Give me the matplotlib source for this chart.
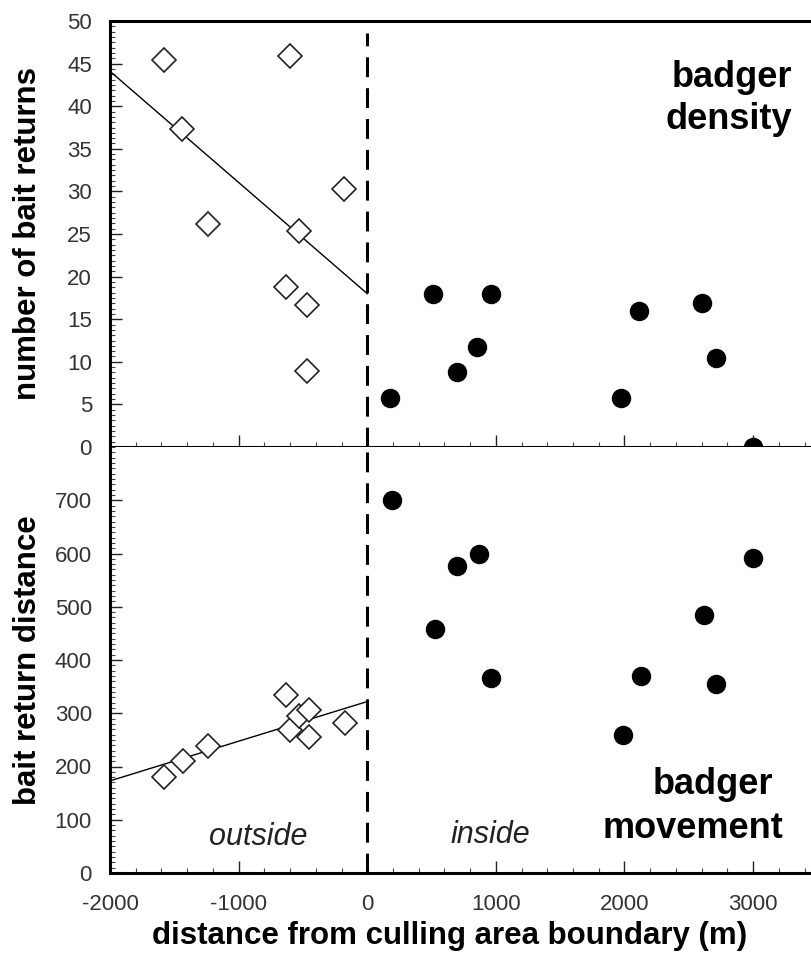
import numpy as np
import matplotlib
matplotlib.use("Agg")
import matplotlib.pyplot as plt
from matplotlib.ticker import MultipleLocator

plt.rcParams["font.family"] = ["Liberation Sans", "DejaVu Sans"]
plt.rcParams["axes.unicode_minus"] = False

# Top panel: number of bait returns (badger density)
out_x_top = [-1580, -600, -1440, -180, -1240, -530, -630, -470, -470]
out_y_top = [45.4, 45.9, 37.3, 30.3, 26.2, 25.3, 18.8, 16.7, 8.9]
in_x_top = [180, 510, 960, 850, 700, 2115, 2600, 2710, 1975, 3000]
in_y_top = [5.8, 17.9, 17.9, 11.7, 8.8, 16.0, 16.9, 10.5, 5.8, 0]
fit_top_x = [-2000, 0]
fit_top_y = [44.1, 18.0]

# Bottom panel: bait return distance (badger movement)
out_x_bot = [-1580, -1435, -1240, -630, -600, -530, -455, -455, -170]
out_y_bot = [181, 211, 238, 334, 268, 294, 306, 256, 282]
in_x_bot = [190, 700, 870, 530, 960, 2125, 2715, 1990, 2620, 3000]
in_y_bot = [700, 577, 599, 459, 366, 370, 354, 259, 485, 592]
fit_bot_x = [-2000, 0]
fit_bot_y = [173, 322]

x_ticks = [-2000, -1000, 0, 1000, 2000, 3000]
top_yticks = np.arange(0, 51, 5)
bot_yticks = np.arange(0, 701, 100)

fig = plt.figure(figsize=(8.11, 9.57), dpi=100)
left = 110 / 811
ax_top = fig.add_axes([left, 1 - 447 / 957, 1 - left, 426 / 957])
ax_bot = fig.add_axes([left, 1 - 873 / 957, 1 - left, 426 / 957])

tick_color = "#333333"
dash = (0, (6.5, 3.6))

for ax in (ax_top, ax_bot):
    ax.set_xlim(-2000, 3450)
    ax.spines["right"].set_visible(False)
    for s in ("left", "top", "bottom"):
        ax.spines[s].set_linewidth(2.2)
    ax.set_xticks(x_ticks)
    ax.xaxis.set_minor_locator(MultipleLocator(200))
    ax.tick_params(which="major", direction="in", length=8.5, width=1.0,
                   labelsize=16, labelcolor=tick_color, color="#222222")
    ax.tick_params(which="minor", direction="in", length=3.8, width=0.8,
                   color="#444444")
    ax.tick_params(axis="y", pad=13)
    ax.tick_params(axis="x", pad=15)
    ax.tick_params(top=False, right=False)

# top panel
ax_top.set_ylim(0, 50)
ax_top.set_yticks(top_yticks)
ax_top.yaxis.set_minor_locator(MultipleLocator(0.625))
ax_top.tick_params(axis="x", labelbottom=False)
ax_top.plot(fit_top_x, fit_top_y, color="black", lw=1.0)
ax_top.plot(out_x_top, out_y_top, "D", ms=12, mfc="white", mec="#222222",
            mew=1.2, ls="none")
ax_top.plot(in_x_top, in_y_top, "o", ms=13, color="black", ls="none",
            clip_on=False, zorder=5)
ax_top.plot([0, 0], [0, 48.6], color="black", lw=2.2, ls=dash)
ax_top.set_ylabel("number of bait returns", fontsize=22.5, fontweight="bold")
ax_top.yaxis.set_label_coords(-0.117, 0.5)
ax_top.yaxis.label.set_va("center")
ax_top.text(3300, 43.4, "badger", fontsize=26, fontweight="bold",
            ha="right", va="center")
ax_top.text(3300, 38.4, "density", fontsize=26, fontweight="bold",
            ha="right", va="center")

# bottom panel
ax_bot.set_ylim(0, 800)
ax_bot.set_yticks(bot_yticks)
ax_bot.yaxis.set_minor_locator(MultipleLocator(10))
ax_bot.spines["top"].set_visible(False)
ax_bot.plot(fit_bot_x, fit_bot_y, color="black", lw=1.0)
ax_bot.plot(out_x_bot, out_y_bot, "D", ms=12, mfc="white", mec="#222222",
            mew=1.2, ls="none")
ax_bot.plot(in_x_bot, in_y_bot, "o", ms=13, color="black", ls="none")
ax_bot.axvline(0, color="black", lw=2.2, ls=dash)
ax_bot.set_ylabel("bait return distance", fontsize=22.5, fontweight="bold")
ax_bot.yaxis.set_label_coords(-0.117, 0.5)
ax_bot.yaxis.label.set_va("center")
ax_bot.set_xlabel("distance from culling area boundary (m)", fontsize=22.5,
                  fontweight="bold")
ax_bot.xaxis.set_label_coords(0.485, -0.148)
ax_bot.xaxis.label.set_va("center")

ax_bot.text(-850, 68, "outside", fontsize=22, style="italic",
            color="#222222", ha="center", va="center")
ax_bot.text(960, 72, "inside", fontsize=22, style="italic",
            color="#222222", ha="center", va="center")
ax_bot.text(2690, 166, "badger", fontsize=26, fontweight="bold",
            ha="center", va="center")
ax_bot.text(2530, 84, "movement", fontsize=26, fontweight="bold",
            ha="center", va="center")

fig.savefig("out.png", dpi=100)
